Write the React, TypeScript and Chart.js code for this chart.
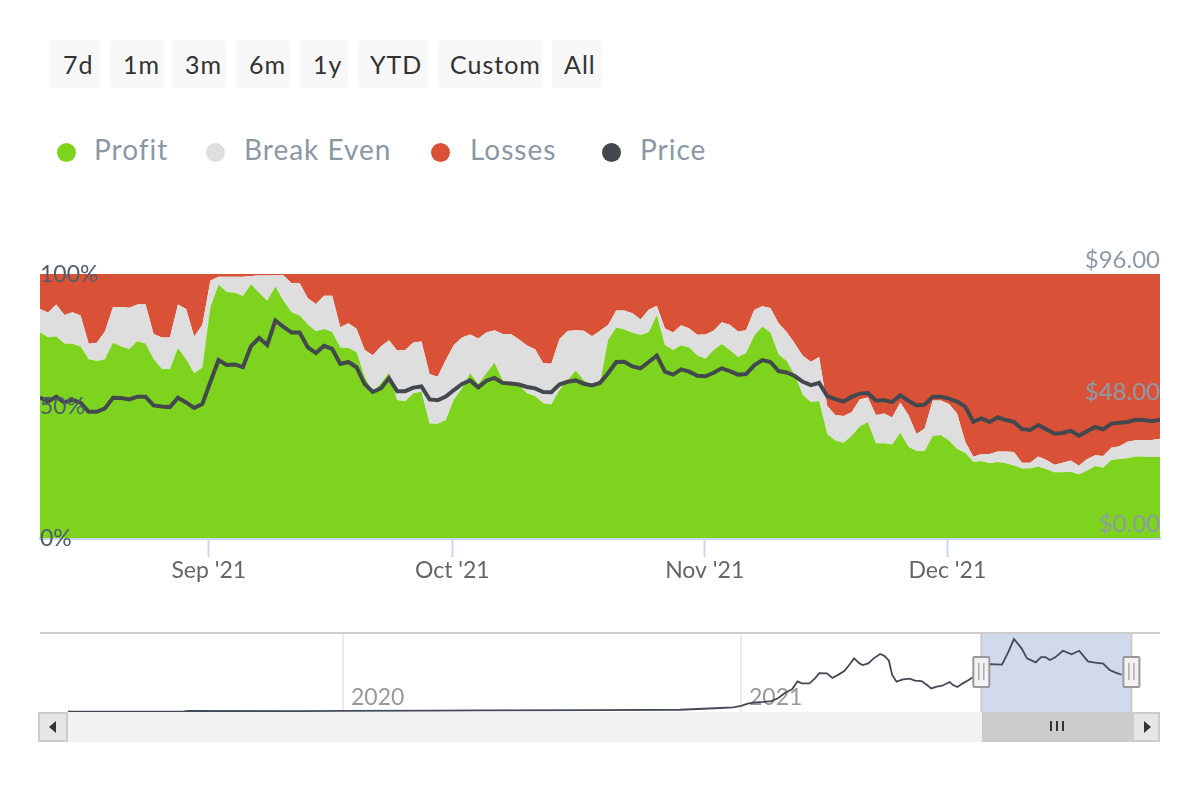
import React, { useEffect, useRef } from "react";
import { Chart, registerables } from "chart.js";

Chart.register(...registerables);

const rangeButtons = ["7d", "1m", "3m", "6m", "1y", "YTD", "Custom", "All"];
const seriesNames = ["Profit", "Break Even", "Losses", "Price"];
const seriesColors = ["#7dd31e", "#dedede", "#d95238", "#43484e"];

const profit = [
  77.9, 76.0, 76.3, 73.7, 73.6, 72.5, 67.7, 67.0, 67.7, 74.0, 72.5, 71.6, 74.5, 73.7, 67.8, 64.1, 63.9, 72.0, 67.7, 62.4,
  64.6, 87.6, 96.0, 93.2, 92.9, 91.7, 96.1, 92.9, 89.9, 95.3, 89.9, 85.5, 84.3, 80.9, 78.3, 79.2, 78.0, 72.2, 72.0, 70.5,
  61.1, 55.4, 58.6, 62.6, 52.3, 51.8, 54.8, 55.4, 43.4, 43.3, 44.7, 52.5, 56.7, 62.4, 58.3, 62.4, 66.4, 59.8, 58.6, 58.0,
  54.8, 53.8, 51.0, 50.6, 56.1, 59.8, 63.4, 59.8, 58.0, 58.6, 75.0, 79.7, 79.0, 77.7, 76.9, 77.9, 84.5, 73.1, 71.2, 73.0,
  72.2, 69.1, 67.9, 71.2, 73.5, 71.2, 68.6, 70.1, 76.6, 80.1, 77.8, 69.6, 67.0, 61.7, 54.2, 51.4, 51.9, 39.4, 36.9, 36.1,
  38.6, 42.2, 43.9, 35.9, 35.9, 35.4, 39.9, 34.6, 33.0, 33.0, 38.6, 39.0, 36.9, 33.7, 32.3, 28.8, 29.2, 28.3, 28.8, 28.3,
  27.5, 26.3, 26.3, 27.1, 26.0, 24.9, 24.9, 25.1, 24.1, 25.5, 27.3, 26.6, 29.5, 29.9, 30.2, 30.9, 30.8, 30.7, 30.8,
];

const breakEven = [
  8.8, 9.4, 12.1, 10.8, 11.9, 11.8, 5.9, 7.0, 10.5, 13.5, 15.0, 15.6, 13.9, 14.8, 9.5, 11.8, 12.0, 16.4, 19.0, 13.9,
  16.1, 9.9, 3.0, 5.8, 6.1, 7.3, 3.1, 6.5, 9.5, 4.2, 9.6, 11.0, 12.2, 9.9, 10.3, 12.6, 13.8, 7.6, 9.3, 8.8,
  10.1, 13.8, 13.9, 12.3, 18.7, 19.4, 19.3, 19.0, 18.7, 17.8, 22.7, 20.6, 19.2, 14.7, 17.3, 15.4, 12.3, 17.5, 18.7, 17.3,
  18.1, 17.7, 15.2, 15.4, 19.2, 18.6, 15.3, 18.7, 18.4, 19.9, 5.7, 6.5, 7.2, 7.4, 5.9, 8.6, 3.5, 6.3, 6.6, 7.6,
  7.2, 7.9, 9.2, 7.3, 8.2, 9.6, 9.6, 8.6, 9.8, 7.7, 9.3, 11.7, 11.0, 12.0, 14.7, 15.4, 16.7, 10.6, 9.7, 10.1,
  9.0, 10.3, 9.3, 10.7, 11.3, 10.2, 11.4, 12.0, 6.4, 8.5, 13.5, 13.1, 13.9, 13.5, 4.2, 2.0, 2.6, 3.5, 4.0, 4.5,
  5.1, 2.2, 2.2, 3.8, 3.5, 2.8, 3.6, 4.3, 3.3, 4.3, 4.0, 4.5, 4.7, 4.9, 6.3, 6.1, 6.3, 6.4, 6.8,
];

const losses = [
  13.3, 14.6, 11.6, 15.5, 14.5, 15.7, 26.4, 26.0, 21.8, 12.5, 12.5, 12.8, 11.6, 11.5, 22.7, 24.1, 24.1, 11.6, 13.3, 23.7,
  19.3, 2.5, 1.0, 1.0, 1.0, 1.0, 0.8, 0.6, 0.6, 0.5, 0.5, 3.5, 3.5, 9.2, 11.4, 8.2, 8.2, 20.2, 18.7, 20.7,
  28.8, 30.8, 27.5, 25.1, 29.0, 28.8, 25.9, 25.6, 37.9, 38.9, 32.6, 26.9, 24.1, 22.9, 24.4, 22.2, 21.3, 22.7, 22.7, 24.7,
  27.1, 28.5, 33.8, 34.0, 24.7, 21.6, 21.3, 21.5, 23.6, 21.5, 19.3, 13.8, 13.8, 14.9, 17.2, 13.5, 12.0, 20.6, 22.2, 19.4,
  20.6, 23.0, 22.9, 21.5, 18.3, 19.2, 21.8, 21.3, 13.6, 12.2, 12.9, 18.7, 22.0, 26.3, 31.1, 33.2, 31.4, 50.0, 53.4, 53.8,
  52.4, 47.5, 46.8, 53.4, 52.8, 54.4, 48.7, 53.4, 60.6, 58.5, 47.9, 47.9, 49.2, 52.8, 63.5, 69.2, 68.2, 68.2, 67.2, 67.2,
  67.4, 71.5, 71.5, 69.1, 70.5, 72.3, 71.5, 70.6, 72.6, 70.2, 68.7, 68.9, 65.8, 65.2, 63.5, 63.0, 62.9, 62.9, 62.4,
];

const price = [
  51.1, 49.6, 51.4, 49.3, 50.2, 49.2, 45.9, 45.9, 47.1, 51.0, 50.9, 50.4, 51.4, 51.4, 48.2, 47.8, 47.6, 51.0, 49.3, 47.3,
  48.7, 56.8, 64.7, 62.9, 63.1, 62.1, 69.8, 72.7, 70.2, 79.1, 76.8, 74.7, 74.7, 69.3, 67.3, 69.9, 68.8, 63.3, 64.0, 62.1,
  56.0, 53.1, 54.4, 58.1, 53.4, 53.4, 54.7, 55.1, 50.4, 50.1, 51.4, 53.8, 56.0, 57.3, 54.8, 57.2, 58.2, 56.4, 56.2, 55.8,
  54.9, 54.4, 53.1, 53.0, 55.8, 56.8, 57.3, 56.1, 55.5, 56.4, 59.9, 64.0, 64.1, 62.4, 61.7, 64.0, 66.3, 60.5, 59.4, 61.3,
  60.5, 59.0, 58.8, 60.1, 61.7, 60.7, 59.4, 59.6, 62.8, 64.7, 64.0, 60.7, 60.2, 58.9, 56.8, 55.6, 56.4, 51.6, 50.5, 49.6,
  51.3, 52.5, 52.7, 49.9, 50.2, 49.4, 51.9, 49.9, 48.2, 48.5, 51.4, 51.4, 50.7, 49.6, 47.8, 42.3, 43.5, 42.2, 43.9, 42.9,
  42.2, 39.6, 39.3, 41.1, 39.5, 37.9, 38.2, 39.0, 37.2, 38.8, 40.4, 39.5, 41.6, 41.9, 42.2, 43.0, 42.9, 42.5, 43.0,
];

const xTickDays = [20.8, 50.8, 81.9, 111.8];
const xTickLabels = ["Sep '21", "Oct '21", "Nov '21", "Dec '21"];

const navDays = [
  -253, -147, -143, -40, 0, 80, 126, 236, 310, 347, 359, 366, 373, 379, 387, 394, 400, 406, 413, 418, 422, 429, 434, 438,
  445, 450, 456, 461, 466, 470, 475, 478, 483, 488, 494, 498, 502, 505, 509, 515, 521, 526, 532, 537, 541, 546, 551, 558,
  561, 565, 570, 575, 580, 587, 595, 606, 612, 617, 624, 629, 637, 642, 646, 650, 655, 662, 670, 677, 685, 690, 699, 705,
  710, 716,
];
const navPrice = [
  0.4, 0.4, 1.1, 1.0, 1.3, 1.5, 1.7, 2.0, 2.4, 4.3, 5.0, 6.5, 9.3, 10.4, 10.8, 11.8, 14.7, 20.1, 24.4, 33.0, 30.8, 30.8, 36.2, 41.9,
  41.6, 36.6, 40.5, 44.1, 51.3, 57.7, 52.3, 50.5, 52.3, 57.7, 62.4, 60.2, 55.2, 39.8, 32.6, 35.1, 35.8, 33.7, 33.3, 29.0, 25.4, 27.2, 28.3, 32.3,
  29.0, 26.9, 30.8, 34.1, 38.0, 50.5, 51.6, 50.9, 64.9, 78.5, 68.5, 57.7, 53.4, 59.1, 59.1, 55.9, 58.8, 65.9, 62.0, 65.9, 54.5, 53.4, 52.0, 45.2,
  42.7, 40.1,
];
const navYearDays = [0, 366];
const navYearLabels = ["2020", "2021"];
const selectedRange = [587, 725];

const FONT = "Lato, 'Open Sans', sans-serif";

const buttonBoxes = [
  [50, 50], [110, 54], [172, 54], [236, 54], [300, 48], [358, 70], [438, 104], [552, 50],
];
const buttonInsets = [13, 13, 13, 13, 13, 12, 12, 12];
const legendSpots = [
  [65, 94], [215, 244], [440, 470], [611, 640],
];

const navDecor = {
  id: "navDecor",
  beforeDatasetsDraw(chart: any) {
    const { ctx, chartArea: a, scales } = chart;
    const x = scales.x;
    const s = x.getPixelForValue(selectedRange[0]);
    const e = x.getPixelForValue(selectedRange[1]);
    ctx.save();
    ctx.fillStyle = "rgba(102,133,194,0.3)";
    ctx.fillRect(s, a.top, e - s, a.bottom - a.top);
    ctx.strokeStyle = "#e6e6e6";
    ctx.lineWidth = 1.5;
    navYearDays.forEach((d) => {
      const px = x.getPixelForValue(d);
      ctx.beginPath();
      ctx.moveTo(px, a.top);
      ctx.lineTo(px, a.bottom);
      ctx.stroke();
    });
    ctx.fillStyle = "#999";
    ctx.font = `23px ${FONT}`;
    ctx.textBaseline = "alphabetic";
    navYearDays.forEach((d, i) => {
      ctx.fillText(navYearLabels[i], x.getPixelForValue(d) + 8, a.bottom - 7);
    });
    ctx.strokeStyle = "#ccc";
    ctx.lineWidth = 2;
    ctx.beginPath();
    ctx.moveTo(a.left, a.top);
    ctx.lineTo(a.right, a.top);
    ctx.moveTo(s, a.top);
    ctx.lineTo(s, a.bottom);
    ctx.moveTo(e, a.top);
    ctx.lineTo(e, a.bottom);
    ctx.stroke();
    ctx.restore();
  },
  afterDatasetsDraw(chart: any) {
    const { ctx, scales } = chart;
    const x = scales.x;
    ctx.save();
    selectedRange.forEach((d) => {
      const px = x.getPixelForValue(d);
      ctx.fillStyle = "#f2f2f2";
      ctx.strokeStyle = "#999";
      ctx.lineWidth = 2;
      ctx.beginPath();
      ctx.roundRect(px - 8, 37, 16, 30, 1);
      ctx.fill();
      ctx.stroke();
      ctx.lineWidth = 1.2;
      ctx.beginPath();
      ctx.moveTo(px - 2.5, 43);
      ctx.lineTo(px - 2.5, 60);
      ctx.moveTo(px + 2.5, 43);
      ctx.lineTo(px + 2.5, 60);
      ctx.stroke();
    });
    ctx.restore();
  },
};

export default function App() {
  const mainRef = useRef<HTMLCanvasElement>(null);
  const navRef = useRef<HTMLCanvasElement>(null);

  useEffect(() => {
    const dayIndex = profit.map((_, i) => i);
    const toPoints = (ys: number[], xs: number[]) => ys.map((y, i) => ({ x: xs[i], y }));
    const area = (i: number, data: number[], fill: any) => ({
      label: seriesNames[i],
      data: toPoints(data, dayIndex),
      yAxisID: "y",
      backgroundColor: seriesColors[i],
      borderWidth: 0,
      pointRadius: 0,
      tension: 0,
      fill,
      order: i + 1,
    });
    const main = new Chart(mainRef.current as HTMLCanvasElement, {
      type: "line",
      data: {
        datasets: [
          area(0, profit, "origin"),
          area(1, breakEven, "-1"),
          area(2, losses, "-1"),
          {
            label: seriesNames[3],
            data: toPoints(price, dayIndex),
            yAxisID: "y1",
            borderColor: seriesColors[3],
            borderWidth: 4,
            pointRadius: 0,
            tension: 0,
            fill: false,
            order: 0,
          },
        ] as any,
      },
      options: {
        responsive: false,
        animation: false,
        layout: { padding: { left: 40, right: 40, top: 274, bottom: 22 } },
        plugins: { legend: { display: false }, tooltip: { enabled: false } },
        scales: {
          x: {
            type: "linear",
            min: 0,
            max: 138,
            afterBuildTicks: (axis: any) => {
              axis.ticks = xTickDays.map((value) => ({ value }));
            },
            afterFit: (axis: any) => {
              axis.height = 50;
              axis.paddingLeft = 0;
              axis.paddingRight = 0;
            },
            grid: { display: true, drawOnChartArea: false, drawTicks: true, tickLength: 19, tickColor: "#ccd6eb", tickWidth: 2 },
            border: { display: true, color: "#ccd6eb", width: 3 },
            ticks: {
              autoSkip: false,
              maxRotation: 0,
              padding: 0,
              color: "#666",
              font: { family: FONT, size: 23 },
              callback: (v: any) => xTickLabels[xTickDays.indexOf(Number(v))] ?? "",
            },
          },
          y: {
            type: "linear",
            stacked: true,
            position: "left",
            min: 0,
            max: 100,
            afterBuildTicks: (axis: any) => {
              axis.ticks = [0, 50, 100].map((value) => ({ value }));
            },
            grid: { display: false, drawTicks: false },
            border: { display: false },
            ticks: {
              mirror: true,
              padding: 0,
              z: 1,
              labelOffset: 1,
              color: "#4f5d6c",
              font: { family: FONT, size: 23 },
              callback: (v: any) => `${v}%`,
            },
          },
          y1: {
            type: "linear",
            position: "right",
            min: 0,
            max: 96,
            afterBuildTicks: (axis: any) => {
              axis.ticks = [0, 48, 96].map((value) => ({ value }));
            },
            grid: { display: false, drawTicks: false },
            border: { display: false },
            ticks: {
              mirror: true,
              padding: 0,
              z: 1,
              labelOffset: -14,
              color: "#8d9ba8",
              font: { family: FONT, size: 24 },
              callback: (v: any) => `$${Number(v).toFixed(2)}`,
            },
          },
        },
      } as any,
    });

    const nav = new Chart(navRef.current as HTMLCanvasElement, {
      type: "line",
      data: {
        datasets: [
          {
            data: toPoints(navPrice, navDays),
            borderColor: "#434a55",
            borderWidth: 1.8,
            pointRadius: 0,
            tension: 0,
            fill: false,
          },
        ],
      },
      options: {
        responsive: false,
        animation: false,
        layout: { padding: { left: 40, right: 40, top: 13, bottom: 18 } },
        plugins: { legend: { display: false }, tooltip: { enabled: false } },
        scales: {
          x: { type: "linear", display: false, min: -278.6, max: 751.3 },
          y: { type: "linear", display: false, min: 0, max: 85 },
        },
      } as any,
      plugins: [navDecor],
    });

    return () => {
      main.destroy();
      nav.destroy();
    };
  }, []);

  const box = (left: number, top: number, width: number, height: number, extra: any = {}) => ({
    position: "absolute" as const,
    left,
    top,
    width,
    height,
    boxSizing: "border-box" as const,
    ...extra,
  });

  return (
    <div style={{ position: "absolute", left: 0, top: 0, width: 1200, height: 800, background: "#fff", overflow: "hidden", fontFamily: FONT }}>
      {rangeButtons.map((t, i) => (
        <div
          key={t}
          style={box(buttonBoxes[i][0], 40, buttonBoxes[i][1], 48, {
            background: "#f7f7f7",
            borderRadius: 4,
            color: "#333",
            fontSize: 25,
            lineHeight: "48px",
            paddingLeft: buttonInsets[i],
            letterSpacing: 1,
            whiteSpace: "nowrap",
          })}
        >
          {t}
        </div>
      ))}
      {seriesNames.map((t, i) => (
        <React.Fragment key={t}>
          <div style={box(legendSpots[i][0] - (i === 0 ? 8.5 : 9.5), 142.5, 19, 19, { background: seriesColors[i], borderRadius: "50%" })} />
          <div
            style={{
              position: "absolute",
              left: legendSpots[i][1],
              top: 131,
              fontSize: 28,
              lineHeight: "36px",
              color: "#8a98a5",
              letterSpacing: 1,
              whiteSpace: "nowrap",
            }}
          >
            {t}
          </div>
        </React.Fragment>
      ))}
      <canvas ref={mainRef} width={1200} height={610} style={{ position: "absolute", left: 0, top: 0 }} />
      <canvas ref={navRef} width={1200} height={110} style={{ position: "absolute", left: 0, top: 620 }} />
      <div style={box(40, 712, 1120, 30, { background: "#f2f2f2" })} />
      <div style={box(38, 712, 30, 30, { background: "#e6e6e6", border: "2px solid #ccc" })} />
      <div style={{ position: "absolute", left: 49, top: 721, width: 0, height: 0, borderTop: "6px solid transparent", borderBottom: "6px solid transparent", borderRight: "7px solid #333" }} />
      <div style={box(982, 712, 150, 30, { background: "#ccc", border: "2px solid #ccc" })} />
      {[1051, 1057, 1063].map((x) => (
        <div key={x} style={box(x - 1, 721, 2, 10, { background: "#333" })} />
      ))}
      <div style={box(1132, 712, 28, 30, { background: "#e6e6e6", border: "2px solid #ccc" })} />
      <div style={{ position: "absolute", left: 1144, top: 721, width: 0, height: 0, borderTop: "6px solid transparent", borderBottom: "6px solid transparent", borderLeft: "7px solid #333" }} />
    </div>
  );
}
